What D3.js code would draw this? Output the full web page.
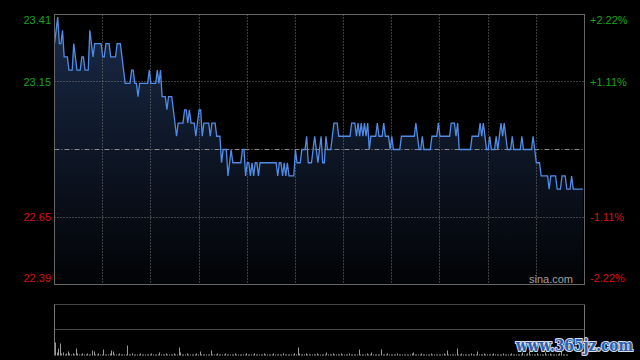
<!DOCTYPE html>
<html>
<head>
<meta charset="utf-8">
<script src="https://cdn.jsdelivr.net/npm/d3@7"></script>
<style>
  html, body { margin: 0; padding: 0; background: #000; }
  svg { display: block; }
</style>
</head>
<body>
<div id="chart"></div>
<script>
const width = 640;
const height = 360;

const prevClose = 22.90;
const priceDomain = [22.39, 23.41];
const priceTickValues = [23.41, 23.155, 22.645, 22.39];
const priceTickLabels = ["23.41", "23.15", "22.65", "22.39"];
const pctTickLabels = ["+2.22%", "+1.11%", "-1.11%", "-2.22%"];
const gridMinutes = [30, 60, 90, 120, 150, 180, 210, 240, 270, 300];
const totalMinutes = 330;

// one price per minute, 9:30-12:00 then 13:00-16:00
const prices = [
  23.30, 23.35, 23.40, 23.30, 23.30, 23.35, 23.25, 23.25, 23.25, 23.20,
  23.20, 23.20, 23.30, 23.25, 23.20, 23.20, 23.20, 23.25, 23.25, 23.20,
  23.20, 23.20, 23.35, 23.30, 23.25, 23.30, 23.30, 23.30, 23.30, 23.30,
  23.25, 23.25, 23.30, 23.30, 23.30, 23.25, 23.25, 23.25, 23.25, 23.30,
  23.30, 23.30, 23.25, 23.20, 23.15, 23.15, 23.15, 23.15, 23.20, 23.20,
  23.15, 23.15, 23.10, 23.15, 23.15, 23.15, 23.15, 23.15, 23.15, 23.20,
  23.15, 23.15, 23.15, 23.15, 23.20, 23.15, 23.20, 23.10, 23.10, 23.10,
  23.05, 23.10, 23.10, 23.10, 23.05, 23.00, 22.95, 23.00, 23.00, 23.00,
  23.00, 23.05, 23.05, 23.00, 23.05, 23.00, 23.00, 23.00, 22.95, 23.00,
  23.05, 23.05, 22.95, 23.00, 23.00, 23.00, 23.00, 22.95, 23.00, 23.00,
  23.00, 22.95, 22.95, 22.95, 22.85, 22.90, 22.90, 22.90, 22.80, 22.85,
  22.90, 22.85, 22.85, 22.85, 22.85, 22.85, 22.85, 22.90, 22.90, 22.80,
  22.85, 22.85, 22.80, 22.85, 22.80, 22.85, 22.85, 22.80, 22.85, 22.85,
  22.85, 22.85, 22.85, 22.85, 22.85, 22.85, 22.85, 22.85, 22.85, 22.80,
  22.85, 22.85, 22.80, 22.85, 22.80, 22.85, 22.80, 22.80, 22.80, 22.80,
  22.90, 22.85, 22.85, 22.85, 22.90, 22.90, 22.90, 22.95, 22.85, 22.85,
  22.85, 22.90, 22.95, 22.90, 22.85, 22.90, 22.95, 22.85, 22.85, 22.95,
  22.90, 22.90, 22.90, 22.95, 23.00, 23.00, 23.00, 22.95, 22.95, 22.95,
  22.95, 22.95, 22.95, 22.95, 22.95, 23.00, 23.00, 23.00, 22.95, 23.00,
  22.95, 23.00, 22.95, 23.00, 22.95, 23.00, 22.90, 22.95, 22.95, 22.95,
  22.95, 23.00, 22.95, 22.95, 22.95, 23.00, 22.95, 22.95, 22.95, 22.90,
  22.95, 22.90, 22.90, 22.90, 22.90, 22.90, 22.95, 22.95, 22.95, 22.95,
  22.95, 22.95, 22.95, 22.95, 22.95, 23.00, 22.95, 22.90, 22.90, 22.95,
  22.90, 22.90, 22.90, 22.90, 22.90, 22.95, 22.95, 22.95, 22.95, 23.00,
  22.95, 22.95, 22.95, 22.95, 22.95, 22.95, 22.95, 23.00, 23.00, 23.00,
  22.95, 23.00, 22.90, 22.90, 22.90, 22.90, 22.90, 22.90, 22.90, 22.90,
  22.95, 22.95, 22.95, 22.95, 22.95, 23.00, 22.95, 23.00, 22.95, 22.90,
  22.90, 22.95, 22.90, 22.90, 22.90, 22.95, 22.90, 22.95, 23.00, 22.95,
  23.00, 22.95, 22.90, 22.90, 22.90, 22.95, 22.90, 22.90, 22.90, 22.90,
  22.90, 22.95, 22.90, 22.90, 22.90, 22.90, 22.90, 22.90, 22.95, 22.90,
  22.85, 22.85, 22.85, 22.80, 22.80, 22.80, 22.80, 22.80, 22.75, 22.80,
  22.80, 22.80, 22.80, 22.75, 22.75, 22.75, 22.80, 22.80, 22.80, 22.75,
  22.75, 22.75, 22.80, 22.75, 22.75, 22.75, 22.75, 22.75, 22.75, 22.75
];

const volumes = [
  13, 3, 7, 12, 2, 3, 1, 2, 4, 2, 1, 2, 1, 7, 2, 1, 1, 2, 1, 1,
  2, 1, 1, 5, 4, 1, 1, 2, 1, 1, 6, 1, 1, 1, 2, 5, 4, 1, 1, 1,
  2, 1, 1, 1, 1, 10, 1, 1, 2, 1, 1, 1, 1, 2, 1, 1, 1, 1, 1, 1,
  2, 1, 1, 1, 1, 3, 1, 1, 1, 2, 1, 1, 1, 1, 2, 1, 1, 8, 3, 1,
  1, 1, 2, 1, 1, 1, 1, 1, 2, 1, 4, 1, 1, 1, 1, 1, 1, 5, 1, 1,
  1, 2, 1, 1, 1, 1, 2, 1, 1, 1, 1, 1, 2, 1, 1, 1, 1, 1, 1, 2,
  1, 1, 1, 1, 2, 1, 1, 1, 1, 1, 2, 1, 1, 1, 1, 1, 2, 1, 1, 1,
  1, 1, 2, 1, 1, 1, 1, 1, 1, 2, 1, 8, 2, 1, 1, 1, 2, 1, 1, 1,
  1, 1, 1, 2, 1, 1, 1, 1, 1, 3, 1, 1, 1, 2, 1, 1, 1, 1, 2, 1,
  1, 1, 1, 2, 1, 1, 1, 1, 1, 6, 1, 1, 1, 1, 2, 1, 1, 3, 1, 1,
  1, 1, 1, 6, 1, 1, 1, 2, 1, 1, 1, 1, 1, 2, 1, 1, 1, 1, 1, 1,
  1, 1, 2, 3, 1, 1, 1, 1, 2, 1, 1, 1, 1, 1, 2, 1, 1, 1, 1, 1,
  1, 1, 2, 1, 5, 1, 1, 1, 1, 1, 7, 1, 1, 2, 1, 1, 1, 1, 1, 2,
  1, 1, 1, 4, 1, 1, 1, 2, 1, 1, 1, 1, 1, 2, 1, 1, 1, 1, 1, 2,
  1, 1, 1, 1, 2, 1, 1, 1, 1, 1, 1, 3, 1, 1, 2, 4, 1, 1, 1, 1,
  2, 1, 1, 1, 1, 3, 1, 1, 2, 1, 1, 1, 1, 1, 2, 5, 1, 1, 1, 1
];

const margin = {top: 14.5, right: 55.5, bottom: 75.5, left: 54.5};
const plotW = width - margin.left - margin.right;
const plotH = height - margin.top - margin.bottom;
const volTop = 304.5;
const volBottom = 355.5;

const green = "#1aa31a";
const red = "#d81010";
const frameColor = "#666";
const gridColor = "#7a7a7a";
const labelFont = "'Liberation Sans', Arial, sans-serif";

const xScale = d3.scaleLinear()
  .domain([0, totalMinutes])
  .range([margin.left, margin.left + plotW]);

const yScale = d3.scaleLinear()
  .domain(priceDomain)
  .range([margin.top + plotH, margin.top]);

const volScale = d3.scaleLinear()
  .domain([0, 51])
  .range([volBottom, volTop]);

const svg = d3.select("#chart")
  .append("svg")
  .attr("width", width)
  .attr("height", height)
  .style("background", "#000");

const defs = svg.append("defs");
const grad = defs.append("linearGradient")
  .attr("id", "areaFill")
  .attr("gradientUnits", "userSpaceOnUse")
  .attr("x1", 0).attr("x2", 0)
  .attr("y1", margin.top).attr("y2", margin.top + plotH);
grad.append("stop").attr("offset", "0%").attr("stop-color", "#1a2a48");
grad.append("stop").attr("offset", "100%").attr("stop-color", "#020305");

const crisp = v => Math.round(v - 0.5) + 0.5;

// area under the price line
svg.append("path")
  .datum(prices)
  .attr("fill", "url(#areaFill)")
  .attr("d", d3.area()
    .x((d, i) => xScale(i))
    .y0(margin.top + plotH)
    .y1(d => yScale(d)));

// grid
const g = svg.append("g");

g.selectAll("line.vgrid")
  .data(gridMinutes)
  .join("line")
  .attr("class", "vgrid")
  .attr("x1", d => crisp(xScale(d)))
  .attr("x2", d => crisp(xScale(d)))
  .attr("y1", margin.top)
  .attr("y2", margin.top + plotH)
  .attr("stroke", gridColor)
  .attr("stroke-width", 1)
  .attr("stroke-dasharray", "1,2");

g.selectAll("line.hgrid")
  .data(priceTickValues.slice(1, 3))
  .join("line")
  .attr("class", "hgrid")
  .attr("x1", margin.left)
  .attr("x2", margin.left + plotW)
  .attr("y1", d => crisp(yScale(d)))
  .attr("y2", d => crisp(yScale(d)))
  .attr("stroke", gridColor)
  .attr("stroke-width", 1)
  .attr("stroke-dasharray", "1,2");

g.append("line")
  .attr("x1", margin.left)
  .attr("x2", margin.left + plotW)
  .attr("y1", crisp(yScale(prevClose)))
  .attr("y2", crisp(yScale(prevClose)))
  .attr("stroke", "#8a8a8a")
  .attr("stroke-width", 1)
  .attr("stroke-dasharray", "5,2,1,2");

// price line
svg.append("path")
  .datum(prices)
  .attr("fill", "none")
  .attr("stroke", "#4f8de8")
  .attr("stroke-width", 1.3)
  .attr("stroke-linejoin", "miter")
  .attr("d", d3.line()
    .x((d, i) => xScale(i))
    .y(d => yScale(d)));

// frame
svg.append("rect")
  .attr("x", margin.left)
  .attr("y", margin.top)
  .attr("width", plotW)
  .attr("height", plotH)
  .attr("fill", "none")
  .attr("stroke", frameColor)
  .attr("stroke-width", 1);

// price labels left, percent labels right
const labelY = [24, 86, 221, 282];

svg.selectAll("text.price")
  .data(priceTickLabels)
  .join("text")
  .attr("class", "price")
  .attr("x", 51)
  .attr("y", (d, i) => labelY[i])
  .attr("text-anchor", "end")
  .attr("fill", (d, i) => priceTickValues[i] > prevClose ? green : red)
  .style("font-family", labelFont)
  .style("font-size", "11px")
  .text(d => d);

svg.selectAll("text.pct")
  .data(pctTickLabels)
  .join("text")
  .attr("class", "pct")
  .attr("x", 590)
  .attr("y", (d, i) => labelY[i])
  .attr("fill", (d, i) => priceTickValues[i] > prevClose ? green : red)
  .style("font-family", labelFont)
  .style("font-size", "11px")
  .text(d => d);

svg.append("text")
  .attr("x", 573)
  .attr("y", 282.5)
  .attr("text-anchor", "end")
  .attr("fill", "#a0a0a0")
  .style("font-family", labelFont)
  .style("font-size", "11px")
  .text("sina.com");

// volume panel
const vg = svg.append("g");

vg.selectAll("line.vdot")
  .data([volTop, (volTop + volBottom) / 2 - 0.5])
  .join("line")
  .attr("class", "vdot")
  .attr("x1", margin.left)
  .attr("x2", margin.left + plotW)
  .attr("y1", d => crisp(d))
  .attr("y2", d => crisp(d))
  .attr("stroke", "#8a8a8a")
  .attr("stroke-width", 1)
  .attr("stroke-dasharray", "1,1");

vg.selectAll("line.side")
  .data([margin.left, margin.left + plotW])
  .join("line")
  .attr("class", "side")
  .attr("x1", d => d)
  .attr("x2", d => d)
  .attr("y1", volTop)
  .attr("y2", volBottom)
  .attr("stroke", "#777")
  .attr("stroke-width", 1);

vg.selectAll("line.vol")
  .data(volumes)
  .join("line")
  .attr("class", "vol")
  .attr("x1", (d, i) => crisp(xScale(i)) + 1)
  .attr("x2", (d, i) => crisp(xScale(i)) + 1)
  .attr("y1", volScale(0))
  .attr("y2", d => volScale(d))
  .attr("stroke", "#9a9a9a")
  .attr("stroke-width", 1);

// site watermark
svg.append("text")
  .attr("x", 516)
  .attr("y", 351)
  .attr("textLength", 117)
  .attr("lengthAdjust", "spacingAndGlyphs")
  .attr("fill", "#2d5fae")
  .attr("stroke", "#d8dde6")
  .attr("stroke-width", 2.2)
  .attr("paint-order", "stroke")
  .style("font-family", "'DejaVu Serif', serif")
  .style("font-weight", "bold")
  .style("font-size", "16px")
  .text("www.365jz.com");
</script>
</body>
</html>
